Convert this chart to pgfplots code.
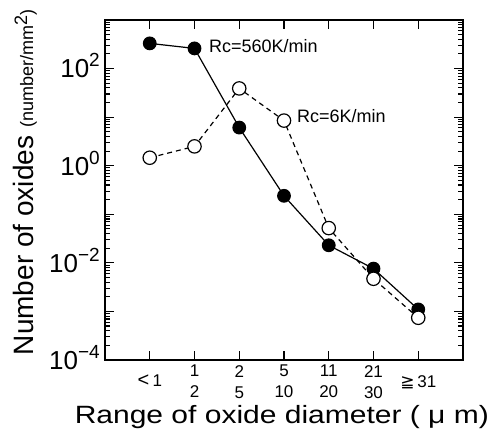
\documentclass[border=0pt]{standalone}
\usepackage{fontspec}
\setmainfont{Liberation Sans}
\newfontfamily\dejavu{DejaVu Sans}
\usepackage{graphicx}
\usepackage{pgfplots}
\pgfplotsset{compat=1.18}
\newcommand{\tenp}[1]{10\raisebox{11pt}{\fontsize{19}{19}\selectfont #1}}
\begin{document}
\begin{tikzpicture}
\begin{axis}[
  at={(0,0)}, anchor=south west,
  scale only axis, width=358pt, height=340pt,
  xmin=-1, xmax=7,
  ymode=log, ymin=1e-4, ymax=1e3,
  axis line style={line width=1.5pt},
  every tick/.style={black, line width=1.1pt},
  major tick length=9pt, minor tick length=5pt,
  xtick={0,1,2,3,4,5,6},
  xticklabels={{\raisebox{-10pt}[\height]{\fontsize{20}{20}\selectfont<\,\fontsize{17}{22}\selectfont 1}},{1\\2},{2\\5},{5\\10},{11\\20},{21\\30},{\raisebox{-10pt}[\height]{{\dejavu ≧}\,31}}},
  xticklabel style={font=\fontsize{17}{21}\selectfont, align=center, inner sep=0pt, yshift=-5pt},
  ytick={1e-4,1e-3,1e-2,1e-1,1,10,100,1000},
  yticklabels={\tenp{−4},,\tenp{−2},,\tenp{0},,\tenp{2},},
  yticklabel style={font=\fontsize{26}{26}\selectfont, anchor=base east, inner sep=0pt, xshift=-5pt, yshift=-9.3pt},
  minor ytick={2e-4,3e-4,4e-4,5e-4,6e-4,7e-4,8e-4,9e-4,
    2e-3,3e-3,4e-3,5e-3,6e-3,7e-3,8e-3,9e-3,
    2e-2,3e-2,4e-2,5e-2,6e-2,7e-2,8e-2,9e-2,
    2e-1,3e-1,4e-1,5e-1,6e-1,7e-1,8e-1,9e-1,
    2,3,4,5,6,7,8,9,20,30,40,50,60,70,80,90,
    200,300,400,500,600,700,800,900},
  xlabel={\scalebox{1.2}[1]{Range of oxide diameter ( μ m)}},
  xlabel style={font=\fontsize{25}{25}\selectfont, at={(axis description cs:0.494,-0.188)}, anchor=base},
  ylabel={Number of oxides {\fontsize{18}{18}\selectfont (number/mm\raisebox{6pt}{2})}},
  ylabel style={font=\fontsize{28}{28}\selectfont, at={(axis description cs:-0.201,0.522)}, anchor=base},
]
\addplot[black, line width=1.2pt, mark=*, mark size=6.3pt, mark options={solid, fill=black}]
  coordinates {(0,330)(1,260)(2,6.1)(3,0.24)(4,0.023)(5,0.0076)(6,0.0011)};
\addplot[black, line width=1.2pt, dash pattern=on 5pt off 4pt, mark=*, mark size=6.7pt, mark options={solid, fill=white, draw=black}]
  coordinates {(0,1.46)(1,2.5)(2,39)(3,8.5)(4,0.052)(5,0.0047)(6,0.00074)};
\node[anchor=base west, font=\fontsize{18}{18}\selectfont, inner sep=0pt] at (axis cs:1.324,214) {Rc=560K/min};
\node[anchor=base west, font=\fontsize{18}{18}\selectfont, inner sep=0pt] at (axis cs:3.29,7.7) {Rc=6K/min};
\end{axis}
\pgfresetboundingbox
\path (-105pt,-70pt) rectangle (385pt,360pt);
\end{tikzpicture}
\end{document}
